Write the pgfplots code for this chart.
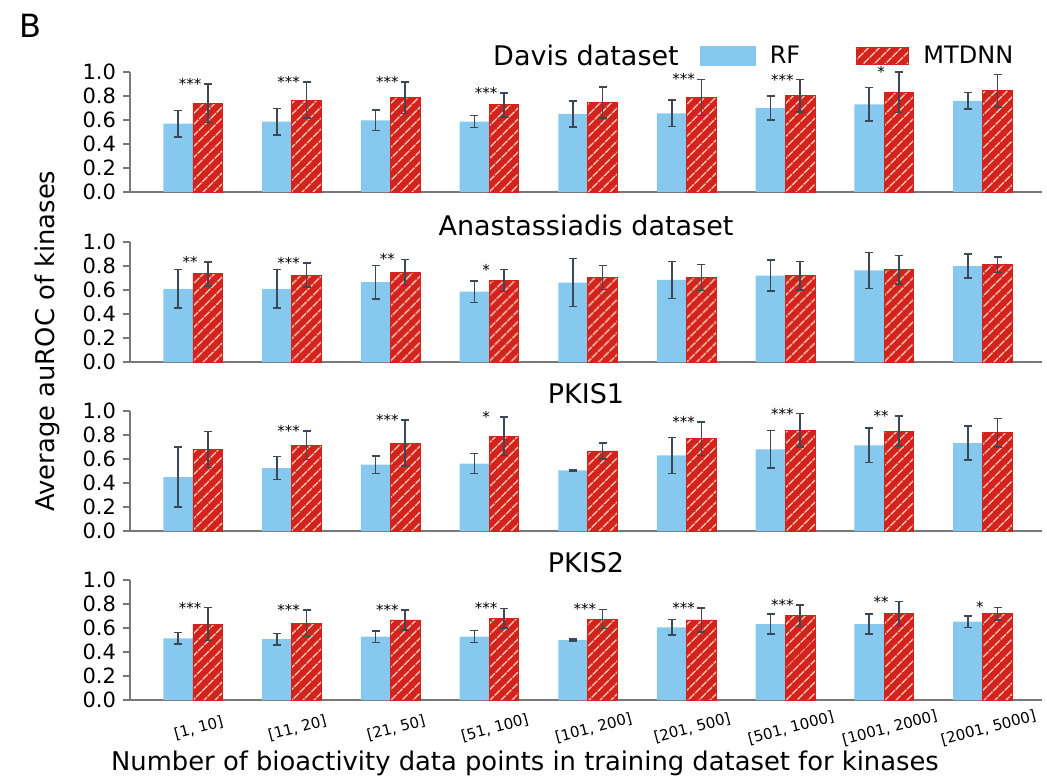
\documentclass[border=0pt]{standalone}
\usepackage{fontspec}
\setmainfont{DejaVu Sans}
\usepackage{pgfplots}
\pgfplotsset{compat=1.18}
\usepackage{pgfplotstable}
\usetikzlibrary{patterns.meta}

\definecolor{rfblue}{RGB}{135,200,238}
\definecolor{mtred}{RGB}{210,36,28}
\definecolor{hatchc}{RGB}{252,205,190}
\definecolor{errc}{RGB}{60,72,85}
\definecolor{spine}{RGB}{120,120,120}

\pgfplotstableread{
x rf rfe mt mte
0 0.569 0.110 0.738 0.160
1 0.586 0.110 0.766 0.150
2 0.597 0.085 0.786 0.130
3 0.586 0.050 0.727 0.100
4 0.650 0.110 0.746 0.130
5 0.656 0.110 0.789 0.150
6 0.700 0.100 0.803 0.135
7 0.730 0.140 0.831 0.170
8 0.760 0.068 0.845 0.135
}\davis

\pgfplotstableread{
x rf rfe mt mte
0 0.609 0.160 0.735 0.100
1 0.609 0.160 0.723 0.100
2 0.665 0.140 0.746 0.110
3 0.587 0.090 0.679 0.090
4 0.662 0.200 0.704 0.100
5 0.684 0.155 0.704 0.110
6 0.720 0.130 0.718 0.120
7 0.763 0.150 0.768 0.120
8 0.800 0.100 0.810 0.065
}\anast

\pgfplotstableread{
x rf rfe mt mte
0 0.450 0.250 0.678 0.150
1 0.525 0.095 0.714 0.120
2 0.553 0.072 0.733 0.190
3 0.561 0.083 0.789 0.160
4 0.506 0.005 0.667 0.066
5 0.630 0.150 0.769 0.140
6 0.680 0.157 0.839 0.140
7 0.714 0.143 0.833 0.125
8 0.733 0.142 0.819 0.117
}\pkisone

\pgfplotstableread{
x rf rfe mt mte
0 0.514 0.048 0.633 0.136
1 0.508 0.048 0.639 0.110
2 0.528 0.048 0.667 0.083
3 0.528 0.050 0.681 0.083
4 0.500 0.010 0.675 0.080
5 0.606 0.066 0.667 0.100
6 0.633 0.083 0.703 0.090
7 0.633 0.083 0.719 0.100
8 0.653 0.048 0.719 0.053
}\pkistwo

\pgfplotsset{
  panel/.style={
    scale only axis, width=456pt, height=60pt,
    anchor=south west,
    xmin=-0.638, xmax=8.6, ymin=0, ymax=1,
    axis x line*=bottom, axis y line*=left,
    axis line style={spine, line width=0.8pt},
    ytick={0,0.2,0.4,0.6,0.8,1},
    yticklabel style={font=\fontsize{10.5}{12}\selectfont,
      /pgf/number format/fixed, /pgf/number format/fixed zerofill,
      /pgf/number format/precision=1, /pgf/number format/assume math mode=true},
    ytick style={spine, line width=0.8pt},
    xtick style={draw=none},
    tick align=outside, major tick length=3.5pt,
    clip=false,
    every axis title shift=0pt,
    title style={font=\fontsize{13.5}{16}\selectfont, at={(0.5,1)}, anchor=center, yshift=8.5pt},
  },
  rfbar/.style={forget plot, ybar, bar width=0.3, bar shift=-0.15, fill=rfblue, draw=none},
  mtbar/.style={forget plot, ybar, bar width=0.3, bar shift=0.15, fill=mtred, draw=mtred,
    postaction={pattern={Lines[angle=45,distance=4pt,line width=0.75pt]}, pattern color=hatchc}},
  errp/.style={forget plot, draw=none, mark=none,
    error bars/y dir=both, error bars/y explicit,
    error bars/error bar style={draw=errc, line width=0.75pt},
    error bars/error mark options={rotate=90, draw=errc, mark size=2pt, line width=0.75pt}},
  stars/.style={forget plot, draw=none, mark=none, nodes near coords, point meta=explicit symbolic,
    every node near coord/.style={font=\fontsize{7.5}{8}\selectfont, anchor=center, inner sep=0pt}},
}

\begin{document}
\begin{tikzpicture}
\path[use as bounding box] (0,0) rectangle (523.5pt,389pt);

% Panel 1: Davis
\begin{axis}[panel, at={(65pt,293pt)}, title={Davis dataset}, xtick=\empty,
  legend style={draw=none, fill=none, at={(0.618,1.134)}, anchor=west,
    font=\fontsize{12}{14}\selectfont, legend columns=2,
    /tikz/every odd column/.append style={column sep=5pt},
    /tikz/every even column/.append style={column sep=26pt}}]
\addlegendimage{legend image code/.code={\fill[rfblue] (0pt,-4.8pt) rectangle (27.5pt,4.8pt);}}
\addlegendentry{RF}
\addlegendimage{legend image code/.code={\fill[mtred] (0pt,-4.3pt) rectangle (26pt,4.3pt);
  \fill[pattern={Lines[angle=45,distance=4pt,line width=0.75pt]}, pattern color=hatchc] (0pt,-4.3pt) rectangle (26pt,4.3pt);
  \draw[mtred, line width=0.6pt] (0pt,-4.3pt) rectangle (26pt,4.3pt);}}
\addlegendentry{MTDNN}
\addplot[rfbar] table[x=x, y=rf]{\davis};
\addplot[mtbar] table[x=x, y=mt]{\davis};
\addplot[errp] table[x expr=\thisrow{x}-0.15, y=rf, y error=rfe]{\davis};
\addplot[errp] table[x expr=\thisrow{x}+0.15, y=mt, y error=mte]{\davis};
\addplot[stars] coordinates {(-0.03,0.898)[***] (0.97,0.916)[***] (1.97,0.916)[***] (2.97,0.827)[***] (4.97,0.939)[***] (5.97,0.938)[***] (6.97,1.001)[*]};
\end{axis}

% Panel 2: Anastassiadis
\begin{axis}[panel, at={(65pt,208pt)}, title={Anastassiadis dataset}, xtick=\empty]
\addplot[rfbar] table[x=x, y=rf]{\anast};
\addplot[mtbar] table[x=x, y=mt]{\anast};
\addplot[errp] table[x expr=\thisrow{x}-0.15, y=rf, y error=rfe]{\anast};
\addplot[errp] table[x expr=\thisrow{x}+0.15, y=mt, y error=mte]{\anast};
\addplot[stars] coordinates {(-0.03,0.835)[**] (0.97,0.823)[***] (1.97,0.856)[**] (2.97,0.769)[*]};
\end{axis}

% Panel 3: PKIS1
\begin{axis}[panel, at={(65pt,123.5pt)}, title={PKIS1}, xtick=\empty]
\addplot[rfbar] table[x=x, y=rf]{\pkisone};
\addplot[mtbar] table[x=x, y=mt]{\pkisone};
\addplot[errp] table[x expr=\thisrow{x}-0.15, y=rf, y error=rfe]{\pkisone};
\addplot[errp] table[x expr=\thisrow{x}+0.15, y=mt, y error=mte]{\pkisone};
\addplot[stars] coordinates {(0.97,0.834)[***] (1.97,0.923)[***] (2.97,0.949)[*] (4.97,0.909)[***] (5.97,0.979)[***] (6.97,0.958)[**]};
\end{axis}

% Panel 4: PKIS2
\begin{axis}[panel, at={(65pt,39pt)}, title={PKIS2},
  xtick={0,1,2,3,4,5,6,7,8},
  xticklabels={{[1, 10]},{[11, 20]},{[21, 50]},{[51, 100]},{[101, 200]},{[201, 500]},{[501, 1000]},{[1001, 2000]},{[2001, 5000]}},
  xticklabel style={font=\fontsize{7.5}{8}\selectfont, rotate=15, anchor=center, yshift=-11pt}]
\addplot[rfbar] table[x=x, y=rf]{\pkistwo};
\addplot[mtbar] table[x=x, y=mt]{\pkistwo};
\addplot[errp] table[x expr=\thisrow{x}-0.15, y=rf, y error=rfe]{\pkistwo};
\addplot[errp] table[x expr=\thisrow{x}+0.15, y=mt, y error=mte]{\pkistwo};
\addplot[stars] coordinates {(-0.03,0.769)[***] (0.97,0.749)[***] (1.97,0.750)[***] (2.97,0.764)[***] (3.97,0.755)[***] (4.97,0.767)[***] (5.97,0.793)[***] (6.97,0.819)[**] (7.97,0.772)[*]};
\end{axis}

\node[font=\fontsize{16}{18}\selectfont, anchor=center] at (15pt,376pt) {B};
\node[font=\fontsize{12.9}{15}\selectfont, rotate=90, anchor=center] at (23.5pt,218.5pt) {Average auROC of kinases};
\node[font=\fontsize{12.9}{15}\selectfont, anchor=base] at (262.5pt,4pt) {Number of bioactivity data points in training dataset for kinases};
\end{tikzpicture}
\end{document}
